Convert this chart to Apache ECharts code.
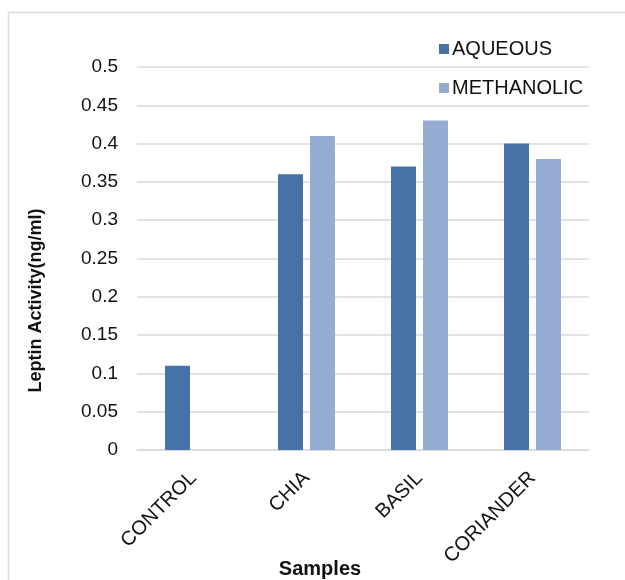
<!DOCTYPE html>
<html lang="en">
	<head>
		<meta charset="UTF-8">
		<title>Leptin activity</title>
	</head>
	<body style="margin:0">
		<div id="chart" style="width:625px; height:580px"></div>
		<script src="https://cdn.jsdelivr.net/npm/echarts@6/dist/echarts.min.js"></script>
		<script>
			// data
			var samples = ['CONTROL', 'CHIA', 'BASIL', 'CORIANDER'];
			var aqueous = [0.11, 0.36, 0.37, 0.40];
			var methanolic = [null, 0.41, 0.43, 0.38];
			var yTicks = [0, 0.05, 0.1, 0.15, 0.2, 0.25, 0.3, 0.35, 0.4, 0.45, 0.5];

			var font = '"Liberation Sans", Arial, sans-serif';
			var chart = echarts.init(document.getElementById('chart'));
			var option = {
				animation: false,
				textStyle: { fontFamily: font },
				graphic: [{
					type: 'rect', // light frame round the chart
					shape: { x: 8.5, y: 12.5, width: 700, height: 700 },
					style: { fill: 'none', stroke: '#d9d9d9', lineWidth: 1.5 },
					silent: true
				}],
				legend: {
					data: ['AQUEOUS', 'METHANOLIC'],
					orient: 'vertical',
					left: 434,
					top: 34,
					itemWidth: 10,
					itemHeight: 10,
					itemGap: 19,
					icon: 'rect',
					textStyle: { fontSize: 20, color: '#111', padding: [0, 0, 0, -2] },
					selectedMode: false
				},
				grid: { left: 137, right: 36, top: 67, bottom: 130, outerBoundsMode: 'none' },
				xAxis: {
					type: 'category',
					data: samples,
					name: 'Samples',
					nameLocation: 'middle',
					nameGap: 109,
					nameMoveOverlap: false,
					nameTextStyle: { fontSize: 20, fontWeight: 'bold', color: '#111', padding: [0, 86, 0, 0] },
					axisLine: { lineStyle: { color: '#d9d9d9', width: 1.5 } },
					axisTick: { show: false },
					axisLabel: { rotate: 45, fontSize: 20, color: '#111', margin: 25, interval: 0 }
				},
				yAxis: {
					type: 'value',
					min: 0,
					max: 0.5,
					interval: 0.05,
					name: 'Leptin Activity(ng/ml)',
					nameLocation: 'middle',
					nameGap: 92,
					nameTextStyle: { fontSize: 18, fontWeight: 'bold', color: '#111', padding: [0, 84, 0, 0] },
					axisLine: { show: false },
					axisTick: { show: false },
					axisLabel: {
						fontSize: 19,
						color: '#111',
						margin: 19,
						formatter: function (v) {
							var t = yTicks.find(function (k) { return Math.abs(k - v) < 1e-9; });
							return t === undefined ? '' : String(t);
						}
					},
					splitLine: { lineStyle: { color: '#d9d9d9', width: 1.5 } }
				},
				series: [{
					name: 'AQUEOUS',
					type: 'bar',
					data: aqueous,
					barWidth: 25,
					barGap: '28%',
					itemStyle: { color: '#4672a8' }
				}, {
					name: 'METHANOLIC',
					type: 'bar',
					data: methanolic,
					barWidth: 25,
					itemStyle: { color: '#94acd2' }
				}]
			};
			chart.setOption(option);
		</script>
	</body>
</html>
